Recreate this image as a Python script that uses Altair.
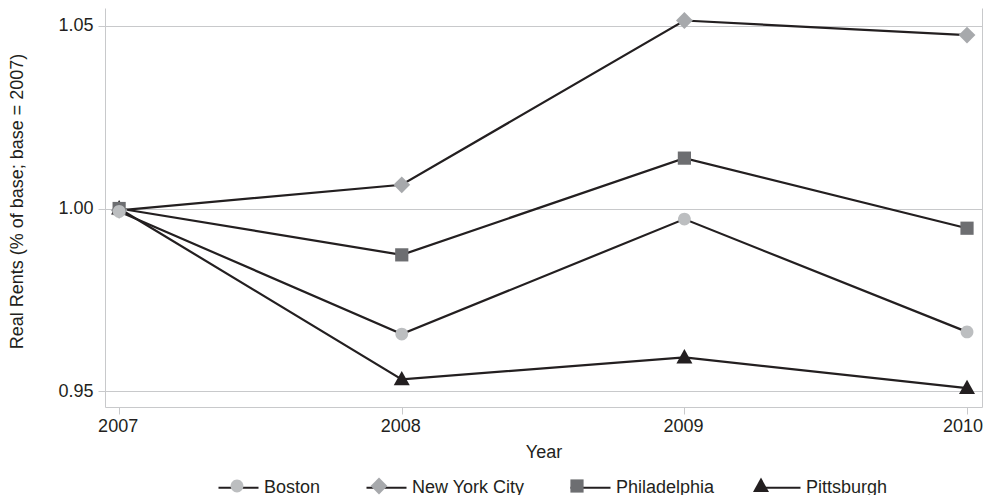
import altair as alt
import pandas as pd

years = [2007, 2008, 2009, 2010]
cities = ["Boston", "New York City", "Philadelphia", "Pittsburgh"]
boston = [0.9992, 0.9656, 0.9971, 0.9662]
new_york = [0.9995, 1.0065, 1.0515, 1.0475]
philadelphia = [1.0000, 0.9873, 1.0138, 0.9946]
pittsburgh = [1.0000, 0.9532, 0.9592, 0.9508]

fill_colors = ["#bcbec0", "#a7a9ac", "#6d6e71", "#231f20"]
line_colors = ["#231f20"] * 4
shapes = [
    "M-0.32,0A0.32,0.32,0,1,0,0.32,0A0.32,0.32,0,1,0,-0.32,0Z",
    "M0,-0.42L0.42,0L0,0.42L-0.42,0Z",
    "M-0.33,-0.33H0.33V0.33H-0.33Z",
    "M0,-0.42L0.4,0.3L-0.4,0.3Z",
]

series = {"Pittsburgh": pittsburgh, "New York City": new_york,
          "Philadelphia": philadelphia, "Boston": boston}
rows = []
for city, vals in series.items():
    for yr, v in zip(years, vals):
        rows.append({"City": city, "Year": yr, "Value": v})
df = pd.DataFrame(rows)

FONT = "Liberation Sans"
TXT = "#231f20"
GRID = "#c8c9cb"

x_enc = alt.X("Year:Q", scale=alt.Scale(domain=[2006.95, 2010.053], nice=False, zero=False),
              axis=alt.Axis(values=years, format="d", grid=False, title="Year",
                            tickSize=7, labelPadding=3, titlePadding=8,
                            labelOffset={"condition": {"test": "datum.value === 2010", "value": -4.5},
                                         "value": -1.5},
                            domainColor=GRID, tickColor=GRID, labelFontSize=18,
                            titleFontSize=18, titleFontWeight="normal",
                            labelColor=TXT, titleColor=TXT, labelFont=FONT, titleFont=FONT))
y_scale = alt.Scale(domain=[0.94562, 1.05493], nice=False, zero=False)

legend_common = dict(orient="none", direction="horizontal", legendX=112, legendY=458,
                     title=None, symbolSize=1600, labelFontSize=18, labelFont=FONT,
                     labelColor=TXT, labelOffset=4, columnPadding=41, padding=0)

lines = alt.Chart(df).mark_line(strokeWidth=2.2).encode(
    x=x_enc,
    y=alt.Y("Value:Q", scale=y_scale,
            axis=alt.Axis(values=[0.95, 1.0, 1.05], format=".2f", grid=True, gridColor=GRID,
                          domainColor=GRID, tickColor=GRID, tickSize=7, labelPadding=5,
                          title="Real Rents (% of base; base = 2007)", titlePadding=31,
                          titleY=193, labelFontSize=18, titleFontSize=18,
                          titleFontWeight="normal", labelColor=TXT, titleColor=TXT,
                          labelFont=FONT, titleFont=FONT)),
    stroke=alt.Stroke("City:N", scale=alt.Scale(domain=cities, range=line_colors),
                      legend=alt.Legend(symbolType="M-1,0H1", symbolStrokeWidth=2.2,
                                        **legend_common)),
    detail="City:N",
)

points = alt.Chart(df).mark_point(filled=True, size=1600, opacity=1, strokeWidth=0).encode(
    x=x_enc,
    y=alt.Y("Value:Q", scale=y_scale,
            axis=alt.Axis(orient="right", labels=False, ticks=False, grid=False, title=None,
                          domainColor=GRID)),
    fill=alt.Fill("City:N", scale=alt.Scale(domain=cities, range=fill_colors),
                  legend=alt.Legend(symbolStrokeWidth=0, labelOpacity=0, **legend_common)),
    shape=alt.Shape("City:N", scale=alt.Scale(domain=cities, range=shapes),
                    legend=alt.Legend(symbolStrokeWidth=0, labelOpacity=0, **legend_common)),
)

chart = alt.layer(lines, points).resolve_legend(
    stroke="independent", fill="independent", shape="independent"
).resolve_axis(y="independent").properties(
    width=877, height=399,
    autosize=alt.AutoSizeParams(type="none"),
    padding={"left": 97, "top": 0, "right": 2, "bottom": 88},
).configure_view(stroke=None)

chart.save("out.html", embed_options={"renderer": "svg", "actions": False})
